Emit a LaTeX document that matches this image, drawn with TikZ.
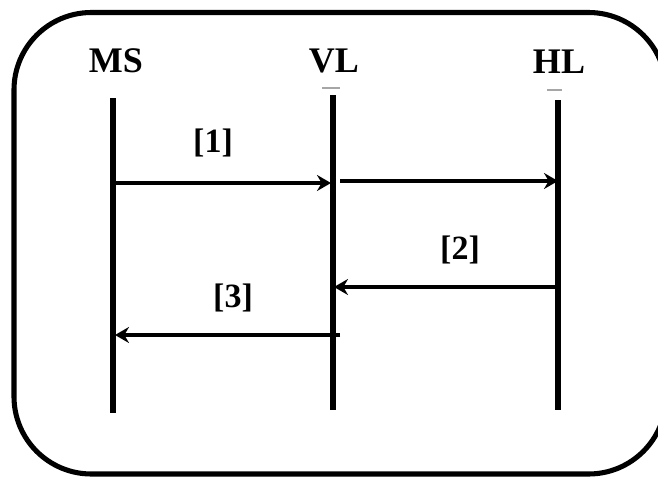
\documentclass[tikz,border=0pt]{standalone}
\usepackage{fontspec}
\setmainfont{Liberation Serif}
\usetikzlibrary{arrows.meta}
\begin{document}
\begin{tikzpicture}[x=0.75pt,y=-0.75pt,
  frame/.style={line width=3.8pt,rounded corners=58pt},
  lifeline/.style={line width=3.8pt},
  msg/.style={line width=3.3pt,-{Stealth[length=10.5pt,width=12pt,inset=3.5pt]}},
  tick/.style={line width=0.8pt,gray!70},
  actor/.style={font=\bfseries\fontsize{27}{31}\selectfont,anchor=base,inner sep=0pt},
  tag/.style={font=\bfseries\fontsize{25.5}{29}\selectfont,anchor=base,inner sep=0pt}]
  \useasboundingbox (0,0) rectangle (658,479);
  \clip (0,0) rectangle (658,479);

  % outer frame (its right side runs past the page edge)
  \draw[frame] (14,12.5) rectangle (666,474);

  % participants
  \node[actor] (ms) at (116,72) {MS};
  \node[actor] (vl) at (334,72) {VL};
  \node[actor] (hl) at (559,73) {HL};

  % lifeline end points
  \coordinate (msT) at (113,98);   \coordinate (msB) at (113,413);
  \coordinate (vlT) at (333,95);   \coordinate (vlB) at (333,410);
  \coordinate (hlT) at (558,100);  \coordinate (hlB) at (558,410);
  \draw[lifeline] (msT) -- (msB);
  \draw[lifeline] (vlT) -- (vlB);
  \draw[lifeline] (hlT) -- (hlB);

  % small marks above VL and HL
  \coordinate (vlmA) at (322,88);  \coordinate (vlmB) at (340,88);
  \coordinate (hlmA) at (547,90);  \coordinate (hlmB) at (562,90);
  \draw[tick] (vlmA) -- (vlmB);
  \draw[tick] (hlmA) -- (hlmB);

  % message end points
  \coordinate (m1a) at (116,183);  \coordinate (m1b) at (331,183);
  \coordinate (m1c) at (340,181);  \coordinate (m1d) at (558,181);
  \coordinate (m2a) at (556,287);  \coordinate (m2b) at (334,287);
  \coordinate (m3a) at (340,335);  \coordinate (m3b) at (115,335);

  \draw[msg] (m1a) -- (m1b);
  \draw[msg] (m1c) -- (m1d);
  \draw[msg] (m2a) -- (m2b);
  \draw[msg] (m3a) -- (m3b);

  % message labels
  \node[tag] (t1) at (213,152) {[1]};
  \node[tag] (t2) at (460,259) {[2]};
  \node[tag] (t3) at (233,307) {[3]};
\end{tikzpicture}
\end{document}
